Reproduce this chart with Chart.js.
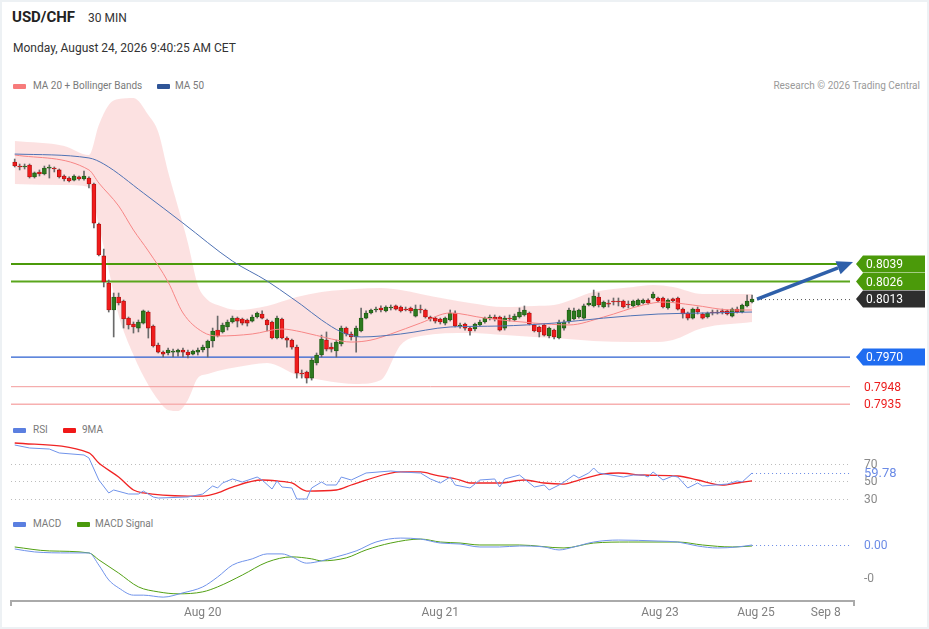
<!DOCTYPE html>
<html>
<head>
<meta charset="utf-8">
<script src="https://cdn.jsdelivr.net/npm/chart.js@4.4.1/dist/chart.umd.min.js"></script>
<style>
body { margin: 0; background: #fff; font-family: Roboto, Arial, sans-serif; }
#wrap { position: relative; width: 929px; height: 629px; overflow: hidden; }
#frame { position: absolute; left: 0; top: 0; width: 925px; height: 625px; border: 2px solid #edf1f4; }
canvas { position: absolute; left: 0; }
.t { position: absolute; white-space: nowrap; line-height: 1; }
.sw { position: absolute; width: 13px; height: 5px; border-radius: 1px; }
.lg { font-size: 10px; color: #7a7a7a; }
</style>
</head>
<body>
<div id="wrap">
  <div id="frame"></div>
  <div class="t" style="left:12px;top:10px;font-size:15px;font-weight:bold;color:#222">USD/CHF</div>
  <div class="t" style="left:88px;top:12px;font-size:12px;color:#333">30 MIN</div>
  <div class="t" style="left:13px;top:42px;font-size:12px;color:#333">Monday, August 24, 2026 9:40:25 AM CET</div>

  <div class="sw" style="left:13px;top:84px;background:#f77b7b"></div>
  <div class="t lg" style="left:33px;top:81px">MA 20 + Bollinger Bands</div>
  <div class="sw" style="left:157px;top:84px;background:#2f5597"></div>
  <div class="t lg" style="left:175px;top:81px">MA 50</div>
  <div class="t lg" style="right:9px;top:81px;color:#9a9a9a">Research © 2026 Trading Central</div>

  <div class="sw" style="left:13px;top:428px;background:#5b7fe0"></div>
  <div class="t lg" style="left:33px;top:425px">RSI</div>
  <div class="sw" style="left:63px;top:428px;background:#f01818"></div>
  <div class="t lg" style="left:82px;top:425px">9MA</div>

  <div class="sw" style="left:13px;top:522px;background:#5b7fe0"></div>
  <div class="t lg" style="left:33px;top:519px">MACD</div>
  <div class="sw" style="left:77px;top:522px;background:#4a9a0c"></div>
  <div class="t lg" style="left:95px;top:519px">MACD Signal</div>

  <canvas id="main" width="929" height="330" style="top:90px"></canvas>
  <canvas id="rsi" width="929" height="70" style="top:436px"></canvas>
  <canvas id="macd" width="929" height="99" style="top:530px"></canvas>
</div>
<script>
// Velas de 30 minutos (USD/CHF)
const opens = [0.81147,0.81117,0.81110,0.81125,0.81036,0.81073,0.81058,0.81102,0.81102,0.81088,
  0.81043,0.81028,0.81013,0.81036,0.81021,0.81028,0.80984,0.80687,0.80450,0.80249,
  0.80049,0.80145,0.80116,0.79989,0.79945,0.79915,0.79952,0.80034,0.79930,0.79789,
  0.79737,0.79730,0.79737,0.79737,0.79752,0.79737,0.79722,0.79737,0.79752,0.79767,
  0.79819,0.79900,0.79886,0.79923,0.79960,0.79989,0.79982,0.79975,0.79967,0.79997,
  0.80019,0.79975,0.79960,0.79841,0.79982,0.79841,0.79826,0.79774,0.79581,0.79589,
  0.79544,0.79656,0.79715,0.79826,0.79774,0.79745,0.79797,0.79915,0.79871,0.79849,
  0.79893,0.79989,0.80027,0.80049,0.80064,0.80042,0.80064,0.80079,0.80071,0.80056,
  0.80064,0.80004,0.80056,0.80049,0.79997,0.79989,0.79982,0.79952,0.79975,0.80027,
  0.79930,0.79945,0.79915,0.79908,0.79938,0.79960,0.79989,0.79997,0.79997,0.79915,
  0.79989,0.79975,0.79997,0.80012,0.80027,0.79938,0.79923,0.79938,0.79856,0.79900,
  0.79841,0.79915,0.79967,0.79982,0.79997,0.79989,0.80086,0.80079,0.80145,0.80071,
  0.80101,0.80116,0.80116,0.80116,0.80093,0.80079,0.80086,0.80101,0.80123,0.80138,
  0.80138,0.80138,0.80064,0.80131,0.80138,0.80056,0.80027,0.79989,0.80056,0.80019,
  0.79997,0.80034,0.80034,0.80042,0.80042,0.80004,0.80056,0.80034,0.80079,0.80108];
const highs = [0.81169,0.81132,0.81132,0.81132,0.81073,0.81088,0.81117,0.81125,0.81110,0.81095,
  0.81051,0.81036,0.81051,0.81043,0.81080,0.81036,0.80991,0.80694,0.80501,0.80271,
  0.80175,0.80175,0.80123,0.79997,0.79960,0.79975,0.80049,0.80042,0.79938,0.79804,
  0.79745,0.79767,0.79759,0.79759,0.79767,0.79752,0.79752,0.79767,0.79789,0.79826,
  0.79915,0.80004,0.79952,0.79975,0.80004,0.79997,0.79989,0.79982,0.80012,0.80034,
  0.80042,0.79982,0.79967,0.80004,0.79989,0.79849,0.79834,0.79789,0.79604,0.79596,
  0.79693,0.79730,0.79863,0.79886,0.79804,0.79826,0.79930,0.79923,0.79886,0.79930,
  0.80064,0.80042,0.80056,0.80071,0.80079,0.80079,0.80086,0.80086,0.80079,0.80071,
  0.80071,0.80086,0.80086,0.80056,0.80004,0.79997,0.79989,0.79997,0.80049,0.80042,
  0.79952,0.79952,0.79923,0.79952,0.79975,0.79997,0.80012,0.80012,0.80004,0.80004,
  0.80012,0.80019,0.80064,0.80079,0.80034,0.79945,0.79930,0.79945,0.79923,0.79908,
  0.79975,0.79975,0.80064,0.80064,0.80056,0.80093,0.80138,0.80197,0.80175,0.80116,
  0.80123,0.80138,0.80138,0.80123,0.80116,0.80123,0.80131,0.80131,0.80131,0.80182,
  0.80145,0.80145,0.80131,0.80138,0.80145,0.80064,0.80034,0.80064,0.80071,0.80027,
  0.80034,0.80049,0.80049,0.80056,0.80049,0.80064,0.80071,0.80093,0.80160,0.80160];
const lows = [0.81110,0.81088,0.81095,0.81028,0.81028,0.81043,0.81051,0.81028,0.81073,0.81028,
  0.81006,0.80999,0.81006,0.81013,0.81013,0.80954,0.80657,0.80450,0.80220,0.80034,
  0.79849,0.80086,0.79915,0.79908,0.79878,0.79886,0.79945,0.79841,0.79774,0.79730,
  0.79700,0.79715,0.79700,0.79707,0.79700,0.79693,0.79715,0.79715,0.79737,0.79700,
  0.79774,0.79849,0.79878,0.79900,0.79952,0.79923,0.79938,0.79930,0.79960,0.79989,
  0.79982,0.79893,0.79834,0.79834,0.79834,0.79774,0.79759,0.79544,0.79544,0.79507,
  0.79529,0.79641,0.79700,0.79745,0.79737,0.79700,0.79782,0.79856,0.79826,0.79737,
  0.79886,0.79982,0.80019,0.80034,0.80034,0.80034,0.80049,0.80049,0.80034,0.80042,
  0.80027,0.79997,0.80027,0.79989,0.79967,0.79952,0.79945,0.79938,0.79967,0.79923,
  0.79915,0.79900,0.79863,0.79893,0.79930,0.79952,0.79975,0.79967,0.79893,0.79900,
  0.79967,0.79967,0.79989,0.80004,0.79938,0.79886,0.79849,0.79856,0.79841,0.79834,
  0.79834,0.79900,0.79952,0.79975,0.79989,0.79982,0.80079,0.80071,0.80071,0.80064,
  0.80071,0.80086,0.80079,0.80064,0.80064,0.80071,0.80079,0.80093,0.80093,0.80131,
  0.80108,0.80064,0.80056,0.80108,0.80049,0.79989,0.79975,0.79982,0.80019,0.79982,
  0.79989,0.80012,0.80019,0.80019,0.80012,0.79997,0.80027,0.80027,0.80071,0.80101];
const closes = [0.81117,0.81110,0.81117,0.81036,0.81066,0.81058,0.81102,0.81110,0.81095,0.81036,
  0.81021,0.81006,0.81043,0.81021,0.81043,0.80984,0.80694,0.80457,0.80257,0.80049,
  0.80145,0.80101,0.79982,0.79938,0.79923,0.79960,0.80042,0.79915,0.79782,0.79737,
  0.79722,0.79752,0.79745,0.79752,0.79737,0.79715,0.79745,0.79752,0.79774,0.79819,
  0.79893,0.79856,0.79938,0.79960,0.79989,0.79967,0.79952,0.79952,0.79997,0.80027,
  0.79989,0.79938,0.79841,0.79989,0.79841,0.79826,0.79774,0.79581,0.79574,0.79544,
  0.79678,0.79715,0.79834,0.79759,0.79759,0.79811,0.79915,0.79871,0.79849,0.79915,
  0.79989,0.80027,0.80049,0.80056,0.80049,0.80071,0.80071,0.80056,0.80042,0.80049,
  0.80042,0.80056,0.80049,0.79997,0.79982,0.79967,0.79960,0.79989,0.80027,0.79930,
  0.79938,0.79915,0.79893,0.79945,0.79960,0.79989,0.79997,0.79982,0.79900,0.79989,
  0.79982,0.80004,0.80034,0.80049,0.79945,0.79893,0.79886,0.79863,0.79915,0.79849,
  0.79960,0.79960,0.80049,0.80042,0.80049,0.80079,0.80101,0.80153,0.80086,0.80108,
  0.80093,0.80108,0.80108,0.80071,0.80086,0.80116,0.80123,0.80123,0.80101,0.80168,
  0.80116,0.80071,0.80123,0.80116,0.80056,0.80019,0.79989,0.80056,0.80034,0.79989,
  0.80027,0.80027,0.80027,0.80034,0.80019,0.80056,0.80034,0.80086,0.80116,0.80130];

// Medias móviles y bandas de Bollinger (posición de vela -> valor)
const ma50Idx = [0, 15, 18, 26, 34, 44, 51, 56, 58, 62, 66, 70, 78, 88, 98, 109, 119, 130, 140, 149];
const ma50Val = [0.81206, 0.81177, 0.81132, 0.80917, 0.80694, 0.80412, 0.80264, 0.80138, 0.80086, 0.79975,
  0.79886, 0.79849, 0.79871, 0.79923, 0.79930, 0.79952, 0.79989, 0.80019, 0.80027, 0.80034];
const ma20Idx = [0, 15, 17, 21, 24, 27, 31, 34, 38, 41, 48, 54, 58, 64, 68, 72, 76, 82, 88, 95, 105, 112, 119, 127, 131, 137, 145, 149];
const ma20Val = [0.81199, 0.81088, 0.80991, 0.80821, 0.80642, 0.80487, 0.80257, 0.80027, 0.79886, 0.79856,
  0.79871, 0.79908, 0.79886, 0.79834, 0.79811, 0.79826, 0.79871, 0.79952, 0.80027, 0.79989,
  0.79952, 0.79938, 0.79997, 0.80086, 0.80108, 0.80086, 0.80049, 0.80049];
const bbIdx = [0, 10, 15, 17, 19, 21, 24, 27, 29, 31, 33, 35, 37, 39, 41, 45, 51, 57, 62, 66, 69, 74, 78, 82, 92, 99, 105, 109, 117, 125, 129, 133, 139, 149];
const bbUpper = [0.81303, 0.81266, 0.81199, 0.81422, 0.81570, 0.81614, 0.81622, 0.81496, 0.81370, 0.81073,
  0.80813, 0.80546, 0.80234, 0.80123, 0.80086, 0.80049, 0.80079, 0.80145, 0.80182, 0.80197,
  0.80205, 0.80212, 0.80197, 0.80168, 0.80101, 0.80071, 0.80079, 0.80086, 0.80182, 0.80220,
  0.80234, 0.80220, 0.80168, 0.80168];
const bbLower = [0.80984, 0.80976, 0.80961, 0.80679, 0.80346, 0.80012, 0.79715, 0.79492, 0.79381, 0.79307,
  0.79299, 0.79381, 0.79544, 0.79574, 0.79596, 0.79626, 0.79656, 0.79567, 0.79529, 0.79507,
  0.79500, 0.79529, 0.79789, 0.79856, 0.79878, 0.79863, 0.79849, 0.79841, 0.79819, 0.79811,
  0.79811, 0.79826, 0.79915, 0.79960];

// Niveles de soporte / resistencia
const levelPrices = [0.8039, 0.8026, 0.7970, 0.7948, 0.7935];

// RSI y su media de 9
const rsiIdx = [0, 3, 7, 9, 14, 15, 17, 19, 20, 23, 25, 26, 28, 29, 35, 38, 40, 41, 42, 44,
  46, 49, 50, 52, 53, 54, 56, 57, 59, 60, 62, 63, 65, 66, 68, 71, 76, 78, 82, 84,
  86, 88, 89, 92, 94, 97, 98, 99, 102, 105, 107, 108, 110, 111, 113, 114, 116, 117, 118, 123,
  125, 127, 128, 129, 131, 133, 134, 136, 138, 139, 144, 146, 147, 149];
const rsiVal = [91.7, 88.3, 87.1, 82.6, 80.3, 76.9, 51.7, 36.9, 40.3, 35.7, 35.7, 39.1, 32.3, 31.1, 32.3, 35.7, 44.9, 42.6, 48.3, 52.9,
  49.4, 55.1, 51.7, 41.4, 50.6, 43.7, 42.6, 30.0, 30.0, 42.6, 49.4, 46.0, 46.0, 55.1, 51.7, 59.7, 62.0, 60.9, 59.7, 52.9,
  48.3, 55.1, 46.0, 42.6, 51.7, 52.9, 43.7, 52.9, 57.4, 43.7, 46.0, 40.3, 46.0, 49.4, 57.4, 54.0, 59.7, 65.4, 59.7, 55.1,
  57.4, 57.4, 55.1, 60.9, 51.7, 56.3, 55.1, 42.6, 48.3, 44.9, 47.1, 50.6, 49.4, 59.78];
const ma9Idx = [0, 15, 17, 21, 24, 26, 35, 38, 41, 44, 50, 53, 56, 59, 65, 68, 71, 78, 82, 85,
  90, 92, 98, 103, 107, 111, 114, 119, 122, 127, 134, 138, 143, 146, 149];
const ma9Val = [94.0, 82.6, 71.1, 55.1, 40.3, 36.9, 33.4, 33.4, 36.9, 43.7, 51.7, 50.6, 48.3, 39.1, 40.3, 46.0, 51.7, 60.9, 60.9, 57.4,
  51.7, 48.3, 48.3, 51.7, 48.3, 47.1, 51.7, 58.6, 59.7, 57.4, 56.3, 51.7, 46.0, 48.3, 50.6];
const rsiTicks = [30, 50, 70];

// MACD y señal
const macdIdx = [0, 4, 11, 15, 17, 19, 21, 24, 26, 30, 34, 38, 41, 44, 48, 51, 54, 56, 59, 62,
  65, 69, 73, 78, 82, 86, 90, 94, 98, 102, 107, 110, 113, 117, 122, 130, 134, 138, 142, 146, 149];
const macdVal = [-0.00012, -0.00021, -0.00024, -0.00024, -0.00061, -0.00106, -0.00130, -0.00152, -0.00152, -0.00158,
  -0.00145, -0.00127, -0.00097, -0.00061, -0.00042, -0.00027, -0.00027, -0.00036, -0.00055, -0.00048,
  -0.00036, -0.00018, 0.00009, 0.00021, 0.00018, 0.00006, 0.00003, -0.00006, -0.00006, -0.00003,
  -0.00006, -0.00015, -0.00006, 0.00009, 0.00015, 0.00012, 0.00009, -0.00003, -0.00009, -0.00006, 0.00000];
const signalIdx = [0, 7, 15, 17, 21, 25, 29, 33, 38, 41, 46, 51, 56, 60, 62, 67, 71, 76, 82, 86,
  90, 94, 102, 111, 117, 124, 134, 139, 145, 149];
const signalVal = [-0.00006, -0.00018, -0.00024, -0.00045, -0.00085, -0.00127, -0.00142, -0.00148, -0.00142, -0.00127,
  -0.00091, -0.00052, -0.00036, -0.00042, -0.00048, -0.00039, -0.00015, 0.00006, 0.00018, 0.00009,
  0.00006, 0, 0, -0.00009, 0.00006, 0.00009, 0.00009, 0, -0.00006, -0.00003];
const macdTicks = [0, -0.001];

// Etiquetas del eje de tiempo
const timeTickPos = [38, 86, 130.4, 149.8, 163.9];
const timeTickText = ['Aug 20', 'Aug 21', 'Aug 23', 'Aug 25', 'Sep 8'];

// ---- configuración visual ----
Chart.defaults.font.family = 'Roboto, Arial, sans-serif';
const X_MIN = -0.75, X_MAX = 169.6;
const PAD = { left: 11, right: 75 };
const UP = '#2d7a1f', DOWN = '#f01c1c';
const levelStyles = [
  { line: '#4b9a0a', width: 2, tag: '#4b9a0a' },
  { line: '#5aa61c', width: 2, tag: '#4b9a0a' },
  { line: '#2a5fd0', width: 1.2, tag: '#1f6cf0' },
  { line: '#f39a9a', width: 1, text: '#ec1c1c' },
  { line: '#f7b0b0', width: 1.5, text: '#ec1c1c' }
];

const idx = closes.map((_, i) => i);
const lastIdx = idx[idx.length - 1];
const lastClose = closes[lastIdx];
const pts = (xs, ys) => xs.map((x, k) => ({ x: x, y: ys[k] }));

function xAxis() {
  return { type: 'linear', min: X_MIN, max: X_MAX, display: false, offset: false };
}

function tag(ctx, x, y, fill, text) {
  const h = 17, w = 925 - x;
  ctx.save();
  ctx.fillStyle = fill;
  ctx.beginPath();
  ctx.moveTo(x, y);
  ctx.lineTo(x + 7, y - h / 2);
  ctx.lineTo(x + w, y - h / 2);
  ctx.lineTo(x + w, y + h / 2);
  ctx.lineTo(x + 7, y + h / 2);
  ctx.closePath();
  ctx.fill();
  ctx.fillStyle = '#fff';
  ctx.font = '12px Roboto, Arial, sans-serif';
  ctx.textBaseline = 'middle';
  ctx.fillText(text, x + 10, y + 1);
  ctx.restore();
}

function dotted(ctx, x1, x2, y, color) {
  ctx.save();
  ctx.strokeStyle = color;
  ctx.lineWidth = 1;
  ctx.setLineDash([1, 3]);
  ctx.beginPath();
  ctx.moveTo(x1, y + 0.5);
  ctx.lineTo(x2, y + 0.5);
  ctx.stroke();
  ctx.restore();
}

// Niveles, flecha y etiquetas del gráfico de precios
const mainPlugin = {
  id: 'mainLevels',
  beforeDatasetsDraw(chart) {
    const { ctx, chartArea, scales } = chart;
    levelPrices.forEach((p, k) => {
      const s = levelStyles[k];
      const y = scales.y.getPixelForValue(p);
      ctx.save();
      ctx.strokeStyle = s.line;
      ctx.lineWidth = s.width;
      ctx.beginPath();
      ctx.moveTo(chartArea.left, y);
      ctx.lineTo(chartArea.right - 4, y);
      ctx.stroke();
      ctx.restore();
    });
  },
  afterDatasetsDraw(chart) {
    const { ctx, chartArea, scales } = chart;
    const x0 = scales.x.getPixelForValue(lastIdx + 1);
    const y0 = scales.y.getPixelForValue(lastClose);
    dotted(ctx, x0, chartArea.right - 4, y0, '#555');

    // flecha hacia el objetivo
    const x1 = scales.x.getPixelForValue(X_MAX) - 1;
    const y1 = scales.y.getPixelForValue(levelPrices[0]) - 2;
    const ang = Math.atan2(y1 - y0, x1 - x0);
    const head = 16;
    ctx.save();
    ctx.strokeStyle = '#2f60aa';
    ctx.fillStyle = '#2f60aa';
    ctx.lineWidth = 3.5;
    ctx.beginPath();
    ctx.moveTo(x0, y0);
    ctx.lineTo(x1 - head * Math.cos(ang), y1 - head * Math.sin(ang));
    ctx.stroke();
    ctx.beginPath();
    ctx.moveTo(x1, y1);
    ctx.lineTo(x1 - head * Math.cos(ang) + 7 * Math.sin(ang), y1 - head * Math.sin(ang) - 7 * Math.cos(ang));
    ctx.lineTo(x1 - head * Math.cos(ang) - 7 * Math.sin(ang), y1 - head * Math.sin(ang) + 7 * Math.cos(ang));
    ctx.closePath();
    ctx.fill();
    ctx.restore();

    const tx = chartArea.right + 2;
    levelPrices.forEach((p, k) => {
      const s = levelStyles[k];
      const y = scales.y.getPixelForValue(p);
      if (s.tag) {
        tag(ctx, tx, y, s.tag, p.toFixed(4));
      } else {
        ctx.save();
        ctx.fillStyle = s.text;
        ctx.font = '12px Roboto, Arial, sans-serif';
        ctx.textBaseline = 'middle';
        ctx.fillText(p.toFixed(4), tx + 8, y + 1);
        ctx.restore();
      }
    });
    tag(ctx, tx, y0, '#2e2e2e', lastClose.toFixed(4));
  }
};

new Chart(document.getElementById('main'), {
  type: 'bar',
  data: {
    datasets: [
      {
        type: 'line', label: 'MA 50', data: pts(ma50Idx, ma50Val),
        borderColor: '#4f72b4', borderWidth: 1, pointRadius: 0,
        cubicInterpolationMode: 'monotone', order: 0
      },
      {
        type: 'line', label: 'MA 20', data: pts(ma20Idx, ma20Val),
        borderColor: '#f78686', borderWidth: 1, pointRadius: 0,
        cubicInterpolationMode: 'monotone', order: 0
      },
      {
        label: 'body',
        data: idx.map(i => ({ x: i, y: [opens[i], closes[i]] })),
        backgroundColor: idx.map(i => closes[i] >= opens[i] ? UP : DOWN),
        borderColor: idx.map(i => closes[i] >= opens[i] ? '#1f5a14' : '#b01010'),
        borderWidth: 0.8, borderSkipped: false, barThickness: 4,
        minBarLength: 1, grouped: false, order: 1
      },
      {
        label: 'wick',
        data: idx.map(i => ({ x: i, y: [lows[i], highs[i]] })),
        backgroundColor: '#6a6a6a', barThickness: 1, grouped: false, order: 2
      },
      {
        type: 'line', label: 'BB upper', data: pts(bbIdx, bbUpper),
        borderColor: 'transparent', borderWidth: 1, pointRadius: 0,
        backgroundColor: 'rgba(252, 222, 222, 0.9)', fill: '+1',
        cubicInterpolationMode: 'monotone', order: 3
      },
      {
        type: 'line', label: 'BB lower', data: pts(bbIdx, bbLower),
        borderColor: 'transparent', borderWidth: 1, pointRadius: 0, fill: false,
        cubicInterpolationMode: 'monotone', order: 4
      }
    ]
  },
  options: {
    responsive: false,
    animation: false,
    layout: { padding: { left: PAD.left, right: PAD.right, top: 5, bottom: 5 } },
    scales: {
      x: xAxis(),
      y: { type: 'linear', min: 0.79270, max: 0.81644, display: false }
    },
    plugins: {
      legend: { display: false },
      tooltip: { enabled: false },
      filler: { drawTime: 'beforeDatasetsDraw' }
    }
  },
  plugins: [mainPlugin]
});

// RSI
const rsiPlugin = {
  id: 'rsiLevels',
  beforeDatasetsDraw(chart) {
    const { ctx, chartArea, scales } = chart;
    rsiTicks.forEach(v => dotted(ctx, chartArea.left, chartArea.right - 4, Math.round(scales.y.getPixelForValue(v)), '#bdbdbd'));
  },
  afterDatasetsDraw(chart) {
    const { ctx, chartArea, scales } = chart;
    const lastRsi = rsiVal[rsiVal.length - 1];
    const yl = scales.y.getPixelForValue(lastRsi);
    dotted(ctx, scales.x.getPixelForValue(rsiIdx[rsiIdx.length - 1]), chartArea.right - 4, Math.round(yl), '#6b8be6');
    ctx.save();
    ctx.textBaseline = 'middle';
    ctx.font = '12px Roboto, Arial, sans-serif';
    ctx.fillStyle = '#8a8a8a';
    rsiTicks.forEach(v => ctx.fillText(String(v), chartArea.right + 10, scales.y.getPixelForValue(v) + 1));
    ctx.font = '13px Roboto, Arial, sans-serif';
    ctx.fillStyle = '#6b8be6';
    ctx.fillText(lastRsi.toFixed(2), chartArea.right + 10, yl + 1);
    ctx.restore();
  }
};

new Chart(document.getElementById('rsi'), {
  type: 'line',
  data: {
    datasets: [
      {
        label: 'RSI', data: pts(rsiIdx, rsiVal),
        borderColor: '#7093ea', borderWidth: 1, pointRadius: 0, tension: 0
      },
      {
        label: '9MA', data: pts(ma9Idx, ma9Val),
        borderColor: '#f02424', borderWidth: 1.3, pointRadius: 0,
        cubicInterpolationMode: 'monotone'
      }
    ]
  },
  options: {
    responsive: false,
    animation: false,
    layout: { padding: { left: PAD.left, right: PAD.right, top: 2, bottom: 3 } },
    scales: {
      x: xAxis(),
      y: { type: 'linear', min: 25.43, max: 99.71, display: false }
    },
    plugins: { legend: { display: false }, tooltip: { enabled: false } }
  },
  plugins: [rsiPlugin]
});

// MACD + eje de tiempo
const macdPlugin = {
  id: 'macdAxis',
  afterDatasetsDraw(chart) {
    const { ctx, chartArea, scales } = chart;
    const y0 = scales.y.getPixelForValue(macdTicks[0]);
    dotted(ctx, scales.x.getPixelForValue(macdIdx[macdIdx.length - 1]), chartArea.right - 4, Math.round(y0), '#6b8be6');
    ctx.save();
    ctx.textBaseline = 'middle';
    ctx.font = '12px Roboto, Arial, sans-serif';
    macdTicks.forEach((v, k) => {
      ctx.fillStyle = k === 0 ? '#6b8be6' : '#8a8a8a';
      ctx.fillText(v.toFixed(k === 0 ? 2 : 0), chartArea.right + 10, scales.y.getPixelForValue(v) + 1);
    });

    // línea del eje inferior
    const b = chartArea.bottom + 1;
    ctx.strokeStyle = '#aaaaaa';
    ctx.lineWidth = 2;
    ctx.beginPath();
    ctx.moveTo(chartArea.left, b + 5);
    ctx.lineTo(chartArea.left, b);
    ctx.lineTo(chartArea.right, b);
    ctx.lineTo(chartArea.right, b + 5);
    ctx.stroke();

    ctx.fillStyle = '#808080';
    ctx.textAlign = 'center';
    timeTickPos.forEach((p, k) => ctx.fillText(timeTickText[k], scales.x.getPixelForValue(p), b + 12));
    ctx.restore();
  }
};

new Chart(document.getElementById('macd'), {
  type: 'line',
  data: {
    datasets: [
      {
        label: 'MACD', data: pts(macdIdx, macdVal),
        borderColor: '#7093ea', borderWidth: 1, pointRadius: 0,
        cubicInterpolationMode: 'monotone'
      },
      {
        label: 'MACD Signal', data: pts(signalIdx, signalVal),
        borderColor: '#52a014', borderWidth: 1, pointRadius: 0,
        cubicInterpolationMode: 'monotone'
      }
    ]
  },
  options: {
    responsive: false,
    animation: false,
    layout: { padding: { left: PAD.left, right: PAD.right, top: 5, bottom: 29 } },
    scales: {
      x: xAxis(),
      y: { type: 'linear', min: -0.001667, max: 0.000303, display: false }
    },
    plugins: { legend: { display: false }, tooltip: { enabled: false } }
  },
  plugins: [macdPlugin]
});
</script>
</body>
</html>
